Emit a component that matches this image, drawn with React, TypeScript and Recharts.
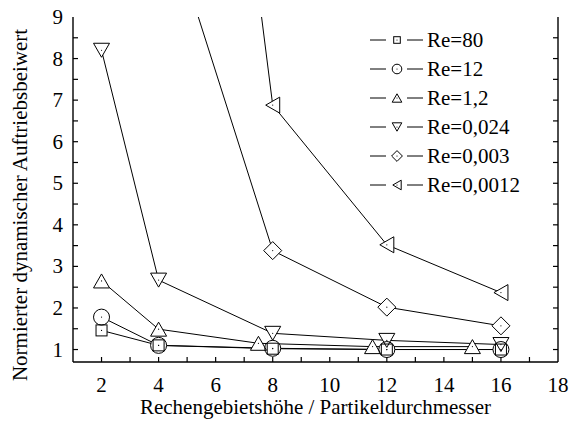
import { LineChart, Line, XAxis, YAxis, Legend } from "recharts"

// Rechengebietshöhe / Partikeldurchmesser
const gridRatio = [2, 4, 8, 12, 16]
const gridRatioRe1_2 = [2, 4, 7.5, 11.5, 15]
const gridRatioLowRe = [4, 8, 12, 16]

// normierter dynamischer Auftriebsbeiwert je Reynoldszahl
const liftRe80 = [1.46, 1.1, 1.02, 1.0, 1.0]
const liftRe12 = [1.78, 1.1, 1.03, 1.0, 1.0]
const liftRe1_2 = [2.65, 1.49, 1.15, 1.07, 1.07]
const liftRe0_024 = [8.2, 2.67, 1.39, 1.22, 1.12]
const liftRe0_003 = [12.0, 3.38, 2.02, 1.57]
const liftRe0_0012 = [28.6, 6.88, 3.52, 2.37]

const xTicks = [1, 2, 3, 4, 5, 6, 7, 8, 9, 10, 11, 12, 13, 14, 15, 16, 17, 18]
const yTicks = [1, 1.5, 2, 2.5, 3, 3.5, 4, 4.5, 5, 5.5, 6, 6.5, 7, 7.5, 8, 8.5, 9]

type Shape = "square" | "circle" | "up" | "down" | "diamond" | "left"

const zip = (xs: number[], ys: number[]) => xs.map((x, i) => ({ x, y: ys[i] }))

const series: { name: string; shape: Shape; data: { x: number; y: number }[] }[] = [
  { name: "Re=80", shape: "square", data: zip(gridRatio, liftRe80) },
  { name: "Re=12", shape: "circle", data: zip(gridRatio, liftRe12) },
  { name: "Re=1,2", shape: "up", data: zip(gridRatioRe1_2, liftRe1_2) },
  { name: "Re=0,024", shape: "down", data: zip(gridRatio, liftRe0_024) },
  { name: "Re=0,003", shape: "diamond", data: zip(gridRatioLowRe, liftRe0_003) },
  { name: "Re=0,0012", shape: "left", data: zip(gridRatioLowRe, liftRe0_0012) },
]

const FONT = "Liberation Serif, Times New Roman, DejaVu Serif, serif"
const textStyle = { fontFamily: FONT }

function Marker({ cx, cy, shape, k = 1, fill, stroke, center = false }: {
  cx: number; cy: number; shape: Shape; k?: number; fill: string; stroke: string; center?: boolean
}) {
  let el
  const common = { fill, stroke, strokeWidth: stroke === "none" ? 0 : 1 }
  switch (shape) {
    case "square":
      el = <rect x={cx - 5.5 * k} y={cy - 5.5 * k} width={11 * k} height={11 * k} {...common} />
      break
    case "circle":
      el = <circle cx={cx} cy={cy} r={8 * k} {...common} />
      break
    case "up":
      el = <polygon points={`${cx},${cy - 7 * k} ${cx + 8 * k},${cy + 7 * k} ${cx - 8 * k},${cy + 7 * k}`} {...common} />
      break
    case "down":
      el = <polygon points={`${cx - 8 * k},${cy - 7 * k} ${cx + 8 * k},${cy - 7 * k} ${cx},${cy + 7 * k}`} {...common} />
      break
    case "diamond":
      el = <polygon points={`${cx},${cy - 9 * k} ${cx + 9 * k},${cy} ${cx},${cy + 9 * k} ${cx - 9 * k},${cy}`} {...common} />
      break
    default:
      el = <polygon points={`${cx - 7 * k},${cy} ${cx + 7 * k},${cy - 8 * k} ${cx + 7 * k},${cy + 8 * k}`} {...common} />
  }
  return (
    <g>
      {el}
      {center && <circle cx={cx} cy={cy} r={0.6} fill="#000" />}
    </g>
  )
}

const BottomTick = (props: any) => {
  const { x, y, payload } = props
  const v = payload.value
  return (
    <g>
      {v > 1 && v < 18 && <line x1={x} x2={x} y1={y} y2={y - 5} stroke="#000" strokeWidth={1.2} />}
      {v % 2 === 0 && (
        <text x={x} y={y + 30} textAnchor="middle" style={textStyle} fontSize={21} fill="#000">
          {v}
        </text>
      )}
    </g>
  )
}

const TopTick = (props: any) => {
  const { x, y, payload } = props
  const v = payload.value
  if (v <= 1 || v >= 18) return <g />
  return <line x1={x} x2={x} y1={y} y2={y + 5} stroke="#000" strokeWidth={1.2} />
}

const LeftTick = (props: any) => {
  const { x, y, payload } = props
  const v = payload.value
  return (
    <g>
      {v < 9 && <line x1={x} x2={x + 5} y1={y} y2={y} stroke="#000" strokeWidth={1.2} />}
      {Number.isInteger(v) && (
        <text x={x - 10} y={y + 7} textAnchor="end" style={textStyle} fontSize={21} fill="#000">
          {v}
        </text>
      )}
    </g>
  )
}

const RightTick = (props: any) => {
  const { x, y, payload } = props
  const v = payload.value
  if (v >= 9) return <g />
  return <line x1={x} x2={x - 5} y1={y} y2={y} stroke="#000" strokeWidth={1.2} />
}

function LegendBox() {
  return (
    <div style={{ fontFamily: FONT, fontSize: 21, color: "#000" }}>
      {series.map((s) => (
        <div key={s.name} style={{ display: "flex", alignItems: "center", height: 29 }}>
          <svg width={57} height={20} style={{ display: "block" }}>
            <line x1={0} x2={16} y1={10} y2={10} stroke="#000" strokeWidth={1} />
            <line x1={37} x2={53} y1={10} y2={10} stroke="#000" strokeWidth={1} />
            <Marker cx={27} cy={10} shape={s.shape} k={0.6} fill="#fff" stroke="#000" center />
          </svg>
          <span style={{ lineHeight: "20px" }}>{s.name}</span>
        </div>
      ))}
    </div>
  )
}

export default function App() {
  return (
    <div style={{ position: "absolute", left: 0, top: 0, width: 571, height: 426, background: "#fff", fontFamily: FONT }}>
      <LineChart width={571} height={426} margin={{ top: 17, right: 0, bottom: 0, left: 0 }} style={{ fontFamily: FONT }}>
        <XAxis
          type="number"
          dataKey="x"
          domain={[1, 18]}
          ticks={xTicks}
          interval={0}
          allowDataOverflow
          height={64}
          tickSize={0}
          tickMargin={0}
          tickLine={false}
          axisLine={{ stroke: "#000", strokeWidth: 1.4 }}
          tick={<BottomTick />}
          label={{
            value: "Rechengebietshöhe / Partikeldurchmesser",
            position: "insideBottom",
            offset: 12,
            style: { fontFamily: FONT, fontSize: 21, fill: "#000" },
          }}
        />
        <XAxis
          xAxisId="top"
          orientation="top"
          type="number"
          domain={[1, 18]}
          ticks={xTicks}
          interval={0}
          allowDataOverflow
          height={0}
          tickSize={0}
          tickMargin={0}
          tickLine={false}
          axisLine={{ stroke: "#000", strokeWidth: 1.4 }}
          tick={<TopTick />}
        />
        <YAxis
          type="number"
          domain={[0.7, 9]}
          ticks={yTicks}
          interval={0}
          allowDataOverflow
          width={73}
          tickSize={0}
          tickMargin={0}
          tickLine={false}
          axisLine={{ stroke: "#000", strokeWidth: 1.4 }}
          tick={<LeftTick />}
          label={{
            content: () => (
              <text
                transform="translate(27,205) rotate(-90)"
                textAnchor="middle"
                style={textStyle}
                fontSize={21}
                fill="#000"
              >
                Normierter dynamischer Auftriebsbeiwert
              </text>
            ),
          }}
        />
        <YAxis
          yAxisId="right"
          orientation="right"
          type="number"
          domain={[0.7, 9]}
          ticks={yTicks}
          interval={0}
          allowDataOverflow
          width={13}
          tickSize={0}
          tickMargin={0}
          tickLine={false}
          axisLine={{ stroke: "#000", strokeWidth: 1.4 }}
          tick={<RightTick />}
        />
        <Legend
          layout="vertical"
          align="center"
          verticalAlign="middle"
          wrapperStyle={{ left: 370, top: 25, width: 190 }}
          content={() => <LegendBox />}
        />

        {/* Verbindungslinien */}
        {series.map((s) => (
          <Line
            key={`line-${s.name}`}
            data={s.data}
            dataKey="y"
            type="linear"
            stroke="#000"
            strokeWidth={1}
            dot={false}
            activeDot={false}
            legendType="none"
            isAnimationActive={false}
          />
        ))}

        {/* weiße Füllung unter den Symbolen, damit die Linien am Rand enden */}
        {series.map((s) => (
          <Line
            key={`fill-${s.name}`}
            data={s.data}
            dataKey="y"
            stroke="none"
            dot={(p: any) => (
              <Marker key={`f-${s.name}-${p.index}`} cx={p.cx} cy={p.cy} shape={s.shape} fill="#fff" stroke="none" />
            )}
            activeDot={false}
            legendType="none"
            isAnimationActive={false}
          />
        ))}

        {/* Symbolumrisse */}
        {series.map((s) => (
          <Line
            key={`mark-${s.name}`}
            name={s.name}
            data={s.data}
            dataKey="y"
            stroke="none"
            dot={(p: any) => (
              <Marker key={`m-${s.name}-${p.index}`} cx={p.cx} cy={p.cy} shape={s.shape} fill="none" stroke="#000" center />
            )}
            activeDot={false}
            isAnimationActive={false}
          />
        ))}
      </LineChart>
    </div>
  )
}
